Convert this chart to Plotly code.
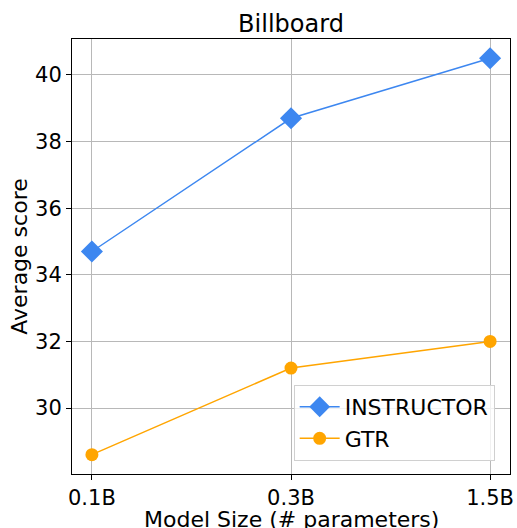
import plotly.graph_objects as go

sizes = ["0.1B", "0.3B", "1.5B"]
instructor = [34.7, 38.7, 40.5]
gtr = [28.6, 31.2, 32.0]
y_ticks = [30, 32, 34, 36, 38, 40]

font = "DejaVu Sans"
fig = go.Figure()
fig.add_trace(go.Scatter(x=list(range(len(sizes))), y=instructor, name="INSTRUCTOR",
                         mode="lines+markers",
                         line=dict(color="#3d87f0", width=1.5),
                         marker=dict(symbol="diamond", size=17, color="#3d87f0")))
fig.add_trace(go.Scatter(x=list(range(len(sizes))), y=gtr, name="GTR",
                         mode="lines+markers",
                         line=dict(color="#ffa500", width=1.5),
                         marker=dict(symbol="circle", size=13, color="#ffa500")))

plot_h = 528 - 39 - 54
fig.update_layout(
    width=517, height=528,
    margin=dict(l=72, r=7, t=39, b=54, autoexpand=False),
    paper_bgcolor="white", plot_bgcolor="white",
    font=dict(family=font, size=22, color="black"),
    title=dict(text="Billboard", x=0.5, xref="paper", xanchor="center",
               y=1 - 24 / 528, yanchor="middle", font=dict(family=font, size=24)),
    showlegend=True,
    legend=dict(x=0.965, y=0.03, xanchor="right", yanchor="bottom",
                bgcolor="rgba(255,255,255,0.8)", bordercolor="#d0d0d0", borderwidth=1,
                font=dict(family=font, size=22), itemwidth=40, tracegroupgap=2),
    annotations=[dict(text="Model Size (# parameters)", xref="paper", yref="paper",
                      x=0.5, y=-(519 - 474) / plot_h, xanchor="center", yanchor="middle",
                      showarrow=False, font=dict(family=font, size=22))],
)
fig.update_xaxes(
    tickmode="array", tickvals=list(range(len(sizes))), ticktext=sizes,
    range=[-0.1, 2.1], showgrid=True, gridcolor="#b8b8b8", gridwidth=1,
    showline=True, linecolor="black", linewidth=1, mirror=True,
    ticks="outside", ticklen=5, tickcolor="black", zeroline=False,
    tickfont=dict(family=font, size=21), automargin=False,
)
fig.update_yaxes(
    tickmode="array", tickvals=y_ticks, range=[28.02, 41.08],
    showgrid=True, gridcolor="#b8b8b8", gridwidth=1,
    showline=True, linecolor="black", linewidth=1, mirror=True,
    ticks="outside", ticklen=5, tickcolor="black", zeroline=False,
    tickfont=dict(family=font, size=21), automargin=False,
    title=dict(text="Average score", standoff=1, font=dict(family=font, size=22)),
)
fig.write_html("out.html", config={"displayModeBar": False})

with open("out.html", "r", encoding="utf-8") as f:
    html = f.read()
html = html.replace("<head>", "<head><style>html,body{margin:0;padding:0;}</style>", 1)
with open("out.html", "w", encoding="utf-8") as f:
    f.write(html)
